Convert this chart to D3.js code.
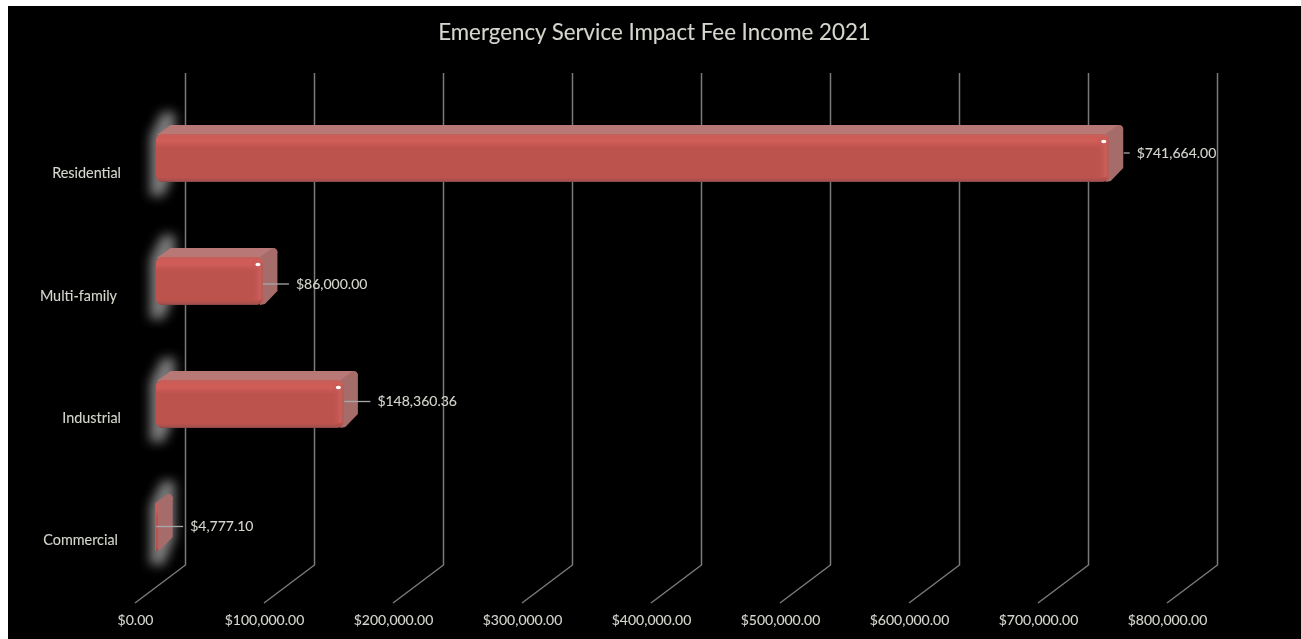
<!DOCTYPE html>
<html>
<head>
<meta charset="utf-8">
<script src="https://cdn.jsdelivr.net/npm/d3@7"></script>
<style>
  html, body { margin: 0; padding: 0; background: #fff; overflow: hidden; }
  text { font-family: Lato, "Open Sans", sans-serif; fill: #d6d6ce; stroke: #d6d6ce; stroke-width: 0.1px; }
</style>
</head>
<body>
<div id="chart"></div>
<script>
var categories = ["Residential", "Multi-family", "Industrial", "Commercial"];
var values = [741664.00, 86000.00, 148360.36, 4777.10];
var xTicks = [0, 100000, 200000, 300000, 400000, 500000, 600000, 700000, 800000];
var title = "Emergency Service Impact Fee Income 2021";

// the source chart sets these by hand, they don't follow any rule
var catLabelNudge = [3, -1, 3, 0];
var catLabelDrop = [15.5, 15.5, 14, 13];
var valueLabelDx = [28, 33, 34, 32];
var valueLabelDy = [-5, 3, -2.5, -0.5];
var leaderLen = [6, 26, 26, 27];

var W = 1301, H = 639;
var wallDx = 50.5, wallDy = -38;      // floor depth of the 3d box
var barDx = 14.5, barDy = -9;         // depth of one bar
var barH = 48;
var floorY = 603, wallTop = 73;

var svg = d3.select("#chart").append("svg")
    .attr("width", W)
    .attr("height", H)
    .style("display", "block");

var defs = svg.append("defs");
defs.append("filter").attr("id", "soft")
    .attr("x", "-5%").attr("y", "-5%").attr("width", "110%").attr("height", "110%")
    .append("feGaussianBlur").attr("stdDeviation", 0.5);
defs.append("filter").attr("id", "glow")
    .attr("x", "-150%").attr("y", "-50%").attr("width", "400%").attr("height", "200%")
    .append("feGaussianBlur").attr("stdDeviation", 5.5);
defs.append("filter").attr("id", "spec")
    .attr("x", "-100%").attr("y", "-100%").attr("width", "300%").attr("height", "300%")
    .append("feGaussianBlur").attr("stdDeviation", 0.7);

var front = defs.append("linearGradient").attr("id", "frontFill")
    .attr("x1", 0).attr("y1", 0).attr("x2", 0).attr("y2", 1);
[[0, "#c25e5a"], [0.08, "#d05c57"], [0.16, "#cf5d58"], [0.28, "#be524e"], [0.9, "#bd524e"], [0.97, "#a8504d"], [1, "#7d4846"]]
    .forEach(function(s) { front.append("stop").attr("offset", s[0]).attr("stop-color", s[1]); });

var edge = defs.append("linearGradient").attr("id", "edgeFill")
    .attr("x1", 0).attr("y1", 0).attr("x2", 1).attr("y2", 0);
edge.append("stop").attr("offset", 0).attr("stop-color", "#bd524e").attr("stop-opacity", 0);
edge.append("stop").attr("offset", 0.75).attr("stop-color", "#cc5e59");
edge.append("stop").attr("offset", 1).attr("stop-color", "#b05c5a");

svg.append("rect")
    .attr("x", 8).attr("y", 6)
    .attr("width", W - 8).attr("height", H - 6)
    .attr("fill", "#000");

var g = svg.append("g").attr("filter", "url(#soft)");

var x = d3.scaleLinear()
    .domain([0, 800000])
    .range([135, 1167]);

var y = d3.scaleBand()
    .domain(categories)
    .range([96.5, 588.5]);

function cy(d) { return y(d) + y.bandwidth() / 2; }

// walls, drawn from the tick values
g.selectAll(".grid").data(xTicks).enter().append("polyline")
    .attr("class", "grid")
    .attr("fill", "none")
    .attr("stroke", "#7a7a7a")
    .attr("stroke-width", 1.5)
    .attr("points", function(d) {
        var px = x(d);
        return [[px, floorY], [px + wallDx, floorY + wallDy], [px + wallDx, wallTop]].join(" ");
    });

g.append("text")
    .attr("x", 654.5)
    .attr("y", 40)
    .attr("text-anchor", "middle")
    .style("font-size", "22.3px")
    .text(title);

var xAxis = d3.axisBottom(x)
    .tickValues(xTicks)
    .tickFormat(d3.format("$,.2f"))
    .tickSize(0)
    .tickPadding(0);

var xAxisG = g.append("g")
    .attr("transform", "translate(0," + 615 + ")")
    .call(xAxis);
xAxisG.select(".domain").remove();
xAxisG.selectAll("text").style("font-size", "14px").style("fill", "#d6d6ce");

var yAxis = d3.axisLeft(y).tickSize(0).tickPadding(0);
var yAxisG = g.append("g")
    .attr("transform", "translate(118,0)")
    .call(yAxis);
yAxisG.select(".domain").remove();
yAxisG.selectAll("text")
    .style("font-size", "14.4px")
    .style("fill", "#d6d6ce")
    .attr("x", function(d, i) { return catLabelNudge[i]; })
    .attr("y", function(d, i) { return catLabelDrop[i]; });

var rows = categories.map(function(c, i) { return { cat: c, value: values[i], i: i }; });

var bars = g.selectAll(".bar").data(rows).enter().append("g").attr("class", "bar");

var x0 = x(0) + 21;
function barEnd(d) { return x(d.value) + 17; }
function frontTop(d) { return cy(d.cat) - barH / 2; }
function isWide(d) { return barEnd(d) - x0 > 20; }

// blurred shadow on the back wall
bars.append("path")
    .attr("filter", "url(#glow)")
    .attr("fill", "#7c7c7c")
    .attr("d", function(d) {
        var c = cy(d.cat);
        return "M150," + (c - 22) + "L162," + (c - 46) + "L175," + (c - 46) +
            "L175," + (c + 10) + "L164," + (c + 38) + "L150," + (c + 38) + "Z";
    });

// top face
bars.append("path")
    .attr("fill", "#b87876")
    .attr("d", function(d) {
        var t = frontTop(d), e = barEnd(d);
        return "M" + (x0 + 1) + "," + (t + 1) + "L" + (x0 + barDx) + "," + (t + barDy) +
            "L" + (e + barDx - 5) + "," + (t + barDy) +
            "Q" + (e + barDx) + "," + (t + barDy) + " " + (e + barDx) + "," + (t + barDy + 5) +
            "L" + e + "," + (t + 6) + "Z";
    });

// end face
bars.append("path")
    .attr("fill", "#a66c6b")
    .attr("d", function(d) {
        var t = frontTop(d), e = barEnd(d);
        return "M" + (e - 3) + "," + t + "L" + (e + barDx - 5) + "," + (t + barDy) +
            "Q" + (e + barDx) + "," + (t + barDy) + " " + (e + barDx) + "," + (t + barDy + 5) +
            "L" + (e + barDx) + "," + (t + barH + barDy - 5) +
            "L" + (e + 2) + "," + (t + barH - 1) + "L" + (e - 3) + "," + (t + barH) + "Z";
    });

// front face
bars.append("rect")
    .attr("x", x0)
    .attr("y", frontTop)
    .attr("width", function(d) { return barEnd(d) - x0; })
    .attr("height", barH)
    .attr("rx", function(d) { return Math.min(6, (barEnd(d) - x0) / 2); })
    .attr("fill", "url(#frontFill)");

// rounded highlight on the right edge
bars.filter(isWide).append("rect")
    .attr("x", function(d) { return barEnd(d) - 12; })
    .attr("y", function(d) { return frontTop(d) + 4; })
    .attr("width", 12)
    .attr("height", barH - 9)
    .attr("rx", 4)
    .attr("fill", "url(#edgeFill)");

bars.filter(isWide).append("ellipse")
    .attr("filter", "url(#spec)")
    .attr("cx", function(d) { return barEnd(d) - 5; })
    .attr("cy", function(d) { return frontTop(d) + 7.5; })
    .attr("rx", 2.6)
    .attr("ry", 1.8)
    .attr("fill", "#fff");

// leader lines and value labels
bars.append("line")
    .attr("x1", function(d) { return barEnd(d) + valueLabelDx[d.i] - 7 - leaderLen[d.i]; })
    .attr("x2", function(d) { return barEnd(d) + valueLabelDx[d.i] - 7; })
    .attr("y1", function(d) { return cy(d.cat) + valueLabelDy[d.i]; })
    .attr("y2", function(d) { return cy(d.cat) + valueLabelDy[d.i]; })
    .attr("stroke", "#a8a8a8")
    .attr("stroke-width", 1.3);

bars.append("text")
    .attr("x", function(d) { return barEnd(d) + valueLabelDx[d.i]; })
    .attr("y", function(d) { return cy(d.cat) + valueLabelDy[d.i]; })
    .attr("dy", "0.33em")
    .style("font-size", "14px")
    .text(function(d) { return d3.format("$,.2f")(d.value); });
</script>
</body>
</html>
